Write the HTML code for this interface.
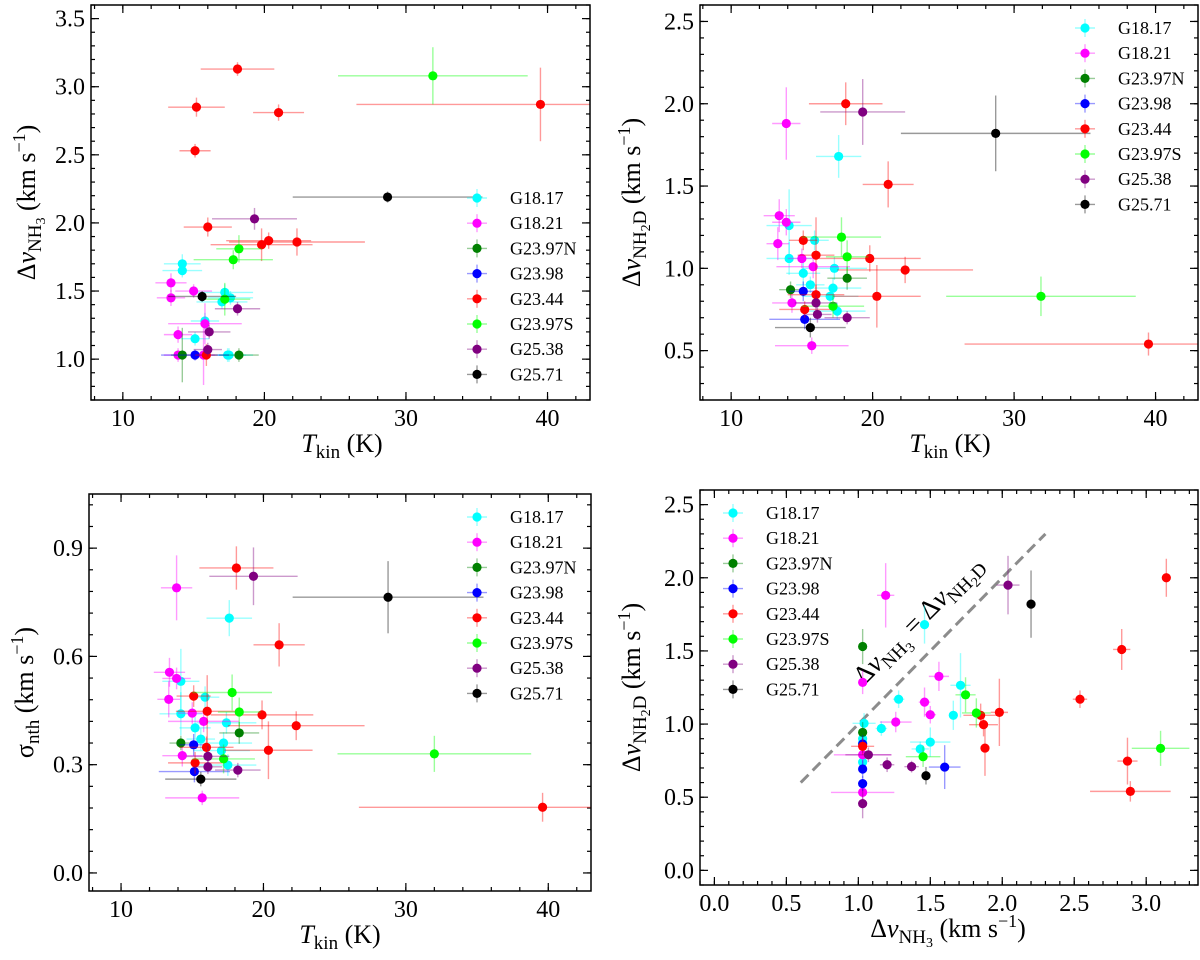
<!DOCTYPE html>
<html><head><meta charset="utf-8"><style>
html,body{margin:0;padding:0;background:#fff;}
svg, svg text{font-family:"Liberation Serif","DejaVu Serif",serif;}
</style></head><body>
<svg id="fig" width="1200" height="955" viewBox="0 0 1200 955" font-family="Liberation Serif, DejaVu Serif, serif" xmlns="http://www.w3.org/2000/svg"></svg>
<script>
// ---- data: [x, y, xerr, yerr] per source ----
const sourceNames = ['G18.17','G18.21','G23.97N','G23.98','G23.44','G23.97S','G25.38','G25.71'];
const sourceColors = ['#00ffff','#ff00ff','#008000','#0000ff','#ff0000','#00ff00','#800080','#000000'];

// Panel 1: Tkin vs dv_NH3
const nh3_G1817 = [[14.2,1.70,1.3,0.07],[14.2,1.65,1.4,0.05],[17.2,1.49,2.0,0.06],[17.6,1.45,1.6,0.05],[17.0,1.42,1.8,0.05],[15.8,1.28,1.0,0.06],[15.1,1.15,1.0,0.05],[17.4,1.03,1.8,0.05],[17.5,1.03,1.2,0.05]];
const nh3_G1821 = [[13.4,1.56,1.1,0.07],[13.4,1.45,1.0,0.06],[15.0,1.50,1.3,0.05],[15.8,1.26,2.6,0.15],[13.9,1.18,1.0,0.06],[13.9,1.03,1.0,0.05],[15.7,1.03,0.8,0.22]];
const nh3_G2397N = [[14.2,1.03,0.8,0.2],[18.2,1.03,1.4,0.05]];
const nh3_G2398 = [[15.1,1.03,2.4,0.04]];
const nh3_G2344 = [[18.1,3.13,2.6,0.05],[15.2,2.85,2.0,0.07],[21.0,2.81,1.8,0.06],[39.5,2.87,13,0.27],[15.1,2.53,1.1,0.05],[16.0,1.97,1.7,0.07],[20.3,1.87,3.0,0.06],[19.8,1.84,3.6,0.12],[22.3,1.86,4.8,0.1],[15.9,1.03,0.8,0.08]];
const nh3_G2397S = [[31.9,3.08,6.7,0.21],[18.2,1.81,1.6,0.1],[17.8,1.73,2.8,0.07],[17.2,1.44,1.8,0.12]];
const nh3_G2538 = [[19.3,2.03,3.0,0.08],[18.1,1.37,1.6,0.05],[16.1,1.20,1.5,0.05],[16.0,1.07,1.0,0.05]];
const nh3_G2571 = [[28.7,2.19,6.7,0.04],[15.6,1.46,2.4,0.04]];

// Panel 2: Tkin vs dv_NH2D
const nh2d_G1817 = [[17.6,1.68,1.6,0.13],[14.1,1.26,1.6,0.22],[15.9,1.17,1.0,0.06],[14.1,1.06,1.6,0.1],[17.3,1.00,2.3,0.07],[15.1,0.97,1.2,0.07],[15.6,0.90,1.0,0.05],[17.2,0.88,2.0,0.06],[17.0,0.83,2.0,0.05],[17.5,0.74,2.0,0.05]];
const nh2d_G1821 = [[13.9,1.88,1.0,0.22],[13.4,1.32,1.1,0.1],[13.9,1.28,1.0,0.08],[13.3,1.15,0.8,0.1],[15.0,1.06,1.0,0.06],[15.8,1.01,2.6,0.07],[14.3,0.79,1.4,0.06],[15.7,0.53,2.6,0.05]];
const nh2d_G2397N = [[14.2,0.87,0.8,0.05],[18.2,0.94,1.4,0.07]];
const nh2d_G2398 = [[15.1,0.86,1.0,0.06],[15.2,0.69,2.5,0.06]];
const nh2d_G2344 = [[18.1,2.00,2.6,0.13],[21.1,1.51,1.8,0.14],[15.1,1.17,1.0,0.06],[16.0,1.08,1.3,0.23],[19.8,1.06,3.6,0.08],[22.3,0.99,4.8,0.08],[20.3,0.83,3.1,0.19],[16.0,0.84,2.0,0.06],[15.2,0.75,1.8,0.05],[39.5,0.54,13,0.07]];
const nh2d_G2397S = [[17.8,1.19,2.8,0.12],[18.2,1.07,1.5,0.1],[17.2,0.77,2.2,0.07],[31.9,0.83,6.7,0.12]];
const nh2d_G2538 = [[19.3,1.95,3.0,0.2],[16.0,0.79,1.5,0.05],[16.1,0.72,1.0,0.05],[18.2,0.70,1.6,0.04]];
const nh2d_G2571 = [[28.7,1.82,6.7,0.23],[15.6,0.64,2.5,0.06]];

// Panel 3: Tkin vs sigma_nth
const snth_G1817 = [[17.6,0.706,1.6,0.05],[14.2,0.531,1.3,0.09],[15.9,0.487,1.0,0.03],[14.2,0.441,1.5,0.06],[17.4,0.416,2.1,0.03],[15.2,0.402,1.1,0.03],[15.6,0.371,1.0,0.03],[17.2,0.36,2.0,0.03],[17.05,0.339,2.0,0.03],[17.5,0.299,2.0,0.03]];
const snth_G1821 = [[13.9,0.79,1.1,0.09],[13.4,0.556,1.1,0.04],[13.9,0.539,1.0,0.03],[13.35,0.481,0.8,0.05],[15.0,0.443,1.0,0.03],[15.8,0.42,2.5,0.03],[14.3,0.325,1.4,0.03],[15.7,0.208,2.6,0.02]];
const snth_G2397N = [[14.2,0.36,0.8,0.02],[18.3,0.388,1.4,0.03]];
const snth_G2398 = [[15.1,0.355,1.0,0.03],[15.15,0.281,2.5,0.03]];
const snth_G2344 = [[18.1,0.845,2.6,0.06],[21.1,0.632,1.8,0.06],[15.1,0.49,1.2,0.03],[16.05,0.448,2.2,0.1],[19.9,0.438,3.6,0.04],[22.3,0.408,4.8,0.04],[20.35,0.34,3.1,0.08],[16.0,0.348,1.9,0.03],[15.2,0.305,1.9,0.03],[39.6,0.182,12.9,0.04]];
const snth_G2397S = [[17.8,0.50,2.8,0.05],[18.3,0.446,1.5,0.04],[17.2,0.316,2.2,0.04],[32.0,0.33,6.8,0.05]];
const snth_G2538 = [[19.3,0.822,3.1,0.08],[16.1,0.323,1.5,0.03],[16.1,0.294,1.0,0.02],[18.2,0.285,1.6,0.02]];
const snth_G2571 = [[28.75,0.764,6.7,0.1],[15.6,0.26,2.5,0.02]];

// Panel 4: dv_NH3 vs dv_NH2D
const cmp_G1817 = [[1.46,1.68,0.03,0.13],[1.71,1.265,0.07,0.22],[1.28,1.17,0.04,0.06],[1.66,1.06,0.03,0.1],[1.04,1.005,0.08,0.07],[1.16,0.97,0.04,0.05],[1.50,0.877,0.14,0.1],[1.43,0.83,0.06,0.05],[1.03,0.74,0.03,0.05],[1.03,0.90,0.03,0.05],[1.03,0.87,0.03,0.05]];
const cmp_G1821 = [[1.19,1.88,0.06,0.22],[1.03,1.285,0.02,0.08],[1.56,1.326,0.07,0.1],[1.46,1.15,0.04,0.1],[1.50,1.064,0.04,0.06],[1.26,1.014,0.11,0.07],[1.03,0.79,0.2,0.06],[1.03,0.533,0.22,0.05]];
const cmp_G2397N = [[1.03,1.53,0.02,0.12],[1.03,0.943,0.02,0.07]];
const cmp_G2398 = [[1.03,0.864,0.02,0.06],[1.03,0.693,0.02,0.06],[1.03,0.593,0.02,0.05],[1.60,0.706,0.11,0.15]];
const cmp_G2344 = [[3.14,2.00,0.03,0.13],[2.83,1.51,0.06,0.14],[2.54,1.17,0.05,0.06],[1.98,1.08,0.06,0.23],[1.85,1.06,0.12,0.08],[1.87,0.996,0.1,0.08],[1.88,0.836,0.03,0.19],[2.87,0.747,0.07,0.16],[2.89,0.54,0.28,0.07],[1.03,0.848,0.08,0.06]];
const cmp_G2397S = [[1.745,1.2,0.07,0.12],[1.82,1.076,0.1,0.1],[1.45,0.777,0.12,0.07],[3.10,0.834,0.2,0.12]];
const cmp_G2538 = [[2.04,1.95,0.08,0.2],[1.07,0.79,0.16,0.05],[1.20,0.722,0.05,0.05],[1.37,0.709,0.05,0.04],[1.03,0.456,0.02,0.1]];
const cmp_G2571 = [[2.20,1.82,0.03,0.23],[1.47,0.647,0.03,0.06]];

const oneToOne = [0.6, 2.3];

const NS = 'http://www.w3.org/2000/svg';
const FONT = 'Liberation Serif, DejaVu Serif, serif';
const svg = document.getElementById('fig');
function mk(tag, attrs, parent){
  const e = document.createElementNS(NS, tag);
  for (const k in attrs) e.setAttribute(k, attrs[k]);
  if (tag === 'text' || tag === 'g') e.setAttribute('font-family', FONT);
  (parent||svg).appendChild(e);
  return e;
}

function drawPanel(cfg){
  const g = mk('g', {});
  
  
  const L=cfg.l, T=cfg.t, W=cfg.w, H=cfg.h;
  const sx = v => L + (v - cfg.xr[0]) / (cfg.xr[1]-cfg.xr[0]) * W;
  const sy = v => T + H - (v - cfg.yr[0]) / (cfg.yr[1]-cfg.yr[0]) * H;
  const clipId = 'clip'+cfg.name;
  const defs = mk('defs', {}, g);
  const cp = mk('clipPath', {id: clipId}, defs);
  mk('rect', {x:L, y:T, width:W, height:H}, cp);

  const tg = mk('g', {stroke:'#000','stroke-width':1.2}, g);
  
  
  function ticks(min, max, step, len, isX){
    const s = Math.ceil(min/step - 1e-6);
    for (let i = s; i*step <= max + 1e-9; i++){
      const v = i*step;
      if (isX){
        const x = sx(v);
        mk('line', {x1:x, y1:T+H, x2:x, y2:T+H-len}, tg);
        mk('line', {x1:x, y1:T, x2:x, y2:T+len}, tg);
      } else {
        const y = sy(v);
        mk('line', {x1:L, y1:y, x2:L+len, y2:y}, tg);
        mk('line', {x1:L+W, y1:y, x2:L+W-len, y2:y}, tg);
      }
    }
  }
  ticks(cfg.xr[0], cfg.xr[1], cfg.xMajor, 8, true);
  ticks(cfg.xr[0], cfg.xr[1], cfg.xMinor, 4, true);
  ticks(cfg.yr[0], cfg.yr[1], cfg.yMajor, 8, false);
  ticks(cfg.yr[0], cfg.yr[1], cfg.yMinor, 4, false);

  const tlx = mk('g', {'font-size':24, 'text-anchor':'middle', fill:'#000'}, g);
  
  
  for (let i = Math.ceil(cfg.xr[0]/cfg.xMajor-1e-6); i*cfg.xMajor <= cfg.xr[1]+1e-9; i++){
    const v = i*cfg.xMajor;
    const t = mk('text', {x:sx(v), y:T+H+26}, tlx);
    t.textContent = v.toFixed(cfg.xDec);
  }
  const tly = mk('g', {'font-size':24, 'text-anchor':'end', fill:'#000'}, g);
  
  
  for (let i = Math.ceil(cfg.yr[0]/cfg.yMajor-1e-6); i*cfg.yMajor <= cfg.yr[1]+1e-9; i++){
    const v = i*cfg.yMajor;
    const t = mk('text', {x:L-6, y:sy(v)+8}, tly);
    t.textContent = v.toFixed(cfg.yDec);
  }

  if (cfg.extra) cfg.extra(g, sx, sy);

  const dg = mk('g', {'clip-path':'url(#'+clipId+')'}, g);
  cfg.series.forEach((pts, si) => {
    const col = sourceColors[si];
    const sg = mk('g', {}, dg);
    
    
    pts.forEach(p => {
      const x = sx(p[0]), y = sy(p[1]);
      const e1 = mk('line', {x1:sx(p[0]-p[2]), y1:y, x2:sx(p[0]+p[2]), y2:y, stroke:col, 'stroke-width':1.4, 'stroke-opacity':0.4}, sg);
      
      
      const e2 = mk('line', {x1:x, y1:sy(p[1]-p[3]), x2:x, y2:sy(p[1]+p[3]), stroke:col, 'stroke-width':1.4, 'stroke-opacity':0.4}, sg);
      
      
    });
    pts.forEach(p => {
      const c = mk('circle', {cx:sx(p[0]), cy:sy(p[1]), r:4.6, fill:col}, sg);
      
      
    });
  });

  const lg = mk('g', {}, g);
  
  
  sourceNames.forEach((n, i) => {
    const y = cfg.legY + i*25.2;
    const eg = mk('g', {}, lg);
    
    
    const col = sourceColors[i];
    mk('line', {x1:cfg.legX-10, y1:y, x2:cfg.legX+10, y2:y, stroke:col, 'stroke-width':1.4, 'stroke-opacity':0.4}, eg);
    mk('line', {x1:cfg.legX, y1:y-9, x2:cfg.legX, y2:y+9, stroke:col, 'stroke-width':1.4, 'stroke-opacity':0.4}, eg);
    mk('circle', {cx:cfg.legX, cy:y, r:4.6, fill:col}, eg);
    const t = mk('text', {x:cfg.legX+33, y:y+6, 'font-size':18}, eg);
    t.textContent = n;
  });

  const fr = mk('rect', {x:L, y:T, width:W, height:H, fill:'none', stroke:'#000', 'stroke-width':1.5}, g);
  
  

  const xl = mk('text', {x:cfg.xlX, y:T+H+52, 'font-size':26, 'text-anchor':'middle'}, g);
  
  
  xl.innerHTML = cfg.xlabel;
  const yl = mk('text', {x:0, y:0, 'font-size':26, 'text-anchor':'middle', transform:'translate('+cfg.ylX+','+(T+H/2)+') rotate(-90)'}, g);
  
  
  yl.innerHTML = cfg.ylabel;
}

const tkinLabel = '<tspan font-style="italic">T</tspan><tspan font-size="19" dy="6">kin</tspan><tspan dy="-6"> (K)</tspan>';
const nh3Full = 'Δ<tspan font-style="italic">ν</tspan><tspan font-size="19" dy="6">NH</tspan><tspan font-size="14" dy="4">3</tspan><tspan dy="-10"> (km s</tspan><tspan font-size="18" dy="-10">−1</tspan><tspan dy="10">)</tspan>';
const nh2dFull = 'Δ<tspan font-style="italic">ν</tspan><tspan font-size="19" dy="6">NH</tspan><tspan font-size="14" dy="4">2</tspan><tspan font-size="19" dy="-4">D</tspan><tspan dy="-6"> (km s</tspan><tspan font-size="18" dy="-10">−1</tspan><tspan dy="10">)</tspan>';
const snthFull = 'σ<tspan font-size="19" dy="6">nth</tspan><tspan dy="-6"> (km s</tspan><tspan font-size="18" dy="-10">−1</tspan><tspan dy="10">)</tspan>';

drawPanel({name:'panel-tkin-nh3', l:91, t:5, w:499, h:395, xr:[7.75,43], yr:[0.7,3.6],
  xMajor:10, xMinor:2, yMajor:0.5, yMinor:0.1, xDec:0, yDec:1,
  series:[nh3_G1817,nh3_G1821,nh3_G2397N,nh3_G2398,nh3_G2344,nh3_G2397S,nh3_G2538,nh3_G2571],
  legX:477, legY:198, xlX:342, ylX:35, xlabel:tkinLabel, ylabel:nh3Full});

drawPanel({name:'panel-tkin-nh2d', l:700, t:5, w:498, h:395, xr:[7.8,43], yr:[0.2,2.6],
  xMajor:10, xMinor:2, yMajor:0.5, yMinor:0.1, xDec:0, yDec:1,
  series:[nh2d_G1817,nh2d_G1821,nh2d_G2397N,nh2d_G2398,nh2d_G2344,nh2d_G2397S,nh2d_G2538,nh2d_G2571],
  legX:1085, legY:28, xlX:950, ylX:640, xlabel:tkinLabel, ylabel:nh2dFull});

drawPanel({name:'panel-tkin-sigma', l:89, t:494, w:502, h:397, xr:[7.75,43], yr:[-0.05,1.05],
  xMajor:10, xMinor:2, yMajor:0.3, yMinor:0.06, xDec:0, yDec:1,
  series:[snth_G1817,snth_G1821,snth_G2397N,snth_G2398,snth_G2344,snth_G2397S,snth_G2538,snth_G2571],
  legX:477, legY:517, xlX:340, ylX:33, xlabel:tkinLabel, ylabel:snthFull});

drawPanel({name:'panel-nh3-nh2d', l:700, t:490, w:498, h:395, xr:[-0.1,3.36], yr:[-0.1,2.6],
  xMajor:0.5, xMinor:0.1, yMajor:0.5, yMinor:0.1, xDec:1, yDec:1,
  series:[cmp_G1817,cmp_G1821,cmp_G2397N,cmp_G2398,cmp_G2344,cmp_G2397S,cmp_G2538,cmp_G2571],
  legX:733, legY:513, xlX:948, ylX:640, xlabel:nh3Full, ylabel:nh2dFull,
  extra:(g, sx, sy) => {
    const ln = mk('line', {x1:sx(oneToOne[0]), y1:sy(oneToOne[0]), x2:sx(oneToOne[1]), y2:sy(oneToOne[1]), stroke:'#8c8c8c', 'stroke-width':3, 'stroke-dasharray':'11,6'}, g);
    
    
    const cx = 924, cy = 626;
    const t = mk('text', {x:0, y:0, 'font-size':27, 'text-anchor':'middle', transform:'translate('+cx+','+cy+') rotate(-45)'}, g);
    
    
    t.innerHTML = 'Δ<tspan font-style="italic">ν</tspan><tspan font-size="19" dy="6">NH</tspan><tspan font-size="14" dy="4">3</tspan><tspan dy="-10"> = Δ</tspan><tspan font-style="italic">ν</tspan><tspan font-size="19" dy="6">NH</tspan><tspan font-size="14" dy="4">2</tspan><tspan font-size="19" dy="-4">D</tspan>';
  }});
</script>
</body></html>
